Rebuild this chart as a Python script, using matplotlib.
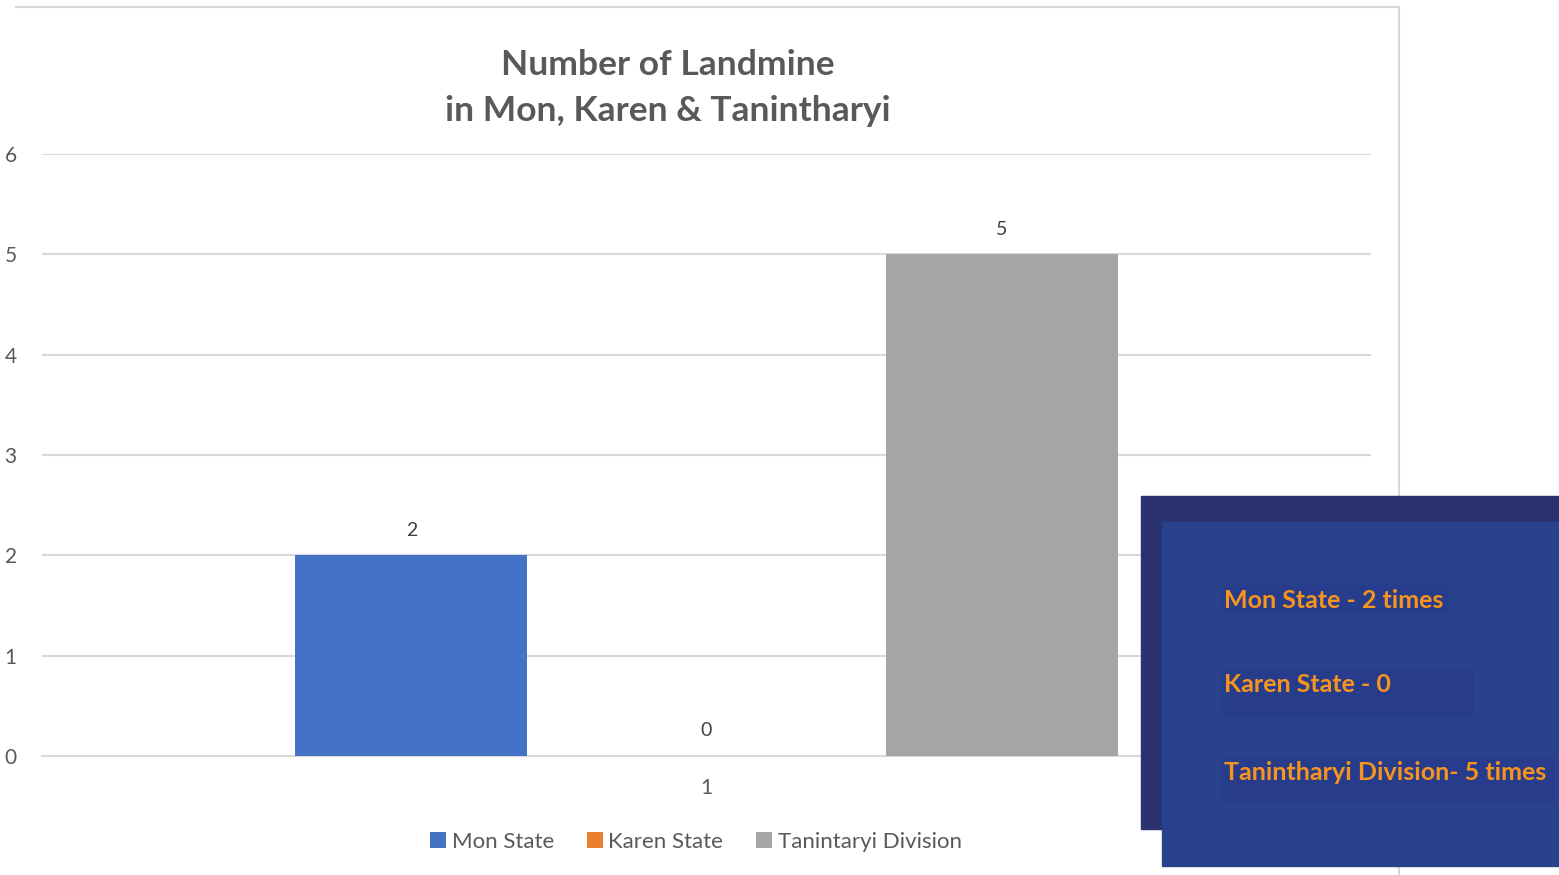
import matplotlib.pyplot as plt
from matplotlib.patches import Rectangle
from matplotlib.lines import Line2D

plt.rcParams['font.family'] = ['Lato', 'DejaVu Sans']

# Data
category = ['1']
series = ['Mon State', 'Karen State', 'Tanintaryi Division']
values = [2, 0, 5]
colors = ['#4472C4', '#ED7D31', '#A5A5A5']
y_ticks = [0, 1, 2, 3, 4, 5, 6]
note_lines = ['Mon State - 2 times', 'Karen State - 0', 'Tanintharyi Division- 5 times']

W, H = 1559, 875
fig = plt.figure(figsize=(W / 100, H / 100), dpi=100)
fig.patch.set_facecolor('white')

# chart area frame (top + right edges visible)
frame_col = '#D9D9D9'
fig.add_artist(Line2D([16 / W, 1399 / W], [1 - 7 / H, 1 - 7 / H], color=frame_col, lw=1.5))
fig.add_artist(Line2D([1399 / W, 1399 / W], [1 - 7 / H, 0], color=frame_col, lw=1.5))

ax = fig.add_axes([42 / W, 1 - 756 / H, (1371 - 42) / W, (756 - 154) / H])
ax.set_xlim(-0.5, 0.5)
ax.set_ylim(0, 6)

bar_w = 0.1746
offset = 0.222
for i, (name, v, c) in enumerate(zip(series, values, colors)):
    x = (i - 1) * offset
    ax.bar(x, v, width=bar_w, color=c, label=name, zorder=3)
    ax.annotate(str(v), (x, v), xytext=(0, 12), textcoords='offset points',
                ha='center', va='bottom', fontsize=14, color='#404040')

ax.set_yticks(y_ticks)
ax.set_xticks([0])
ax.set_xticklabels(category)
ax.grid(axis='y', color='#D9D9D9', lw=1.5, zorder=0)
for s in ax.spines.values():
    s.set_visible(False)
ax.spines['bottom'].set_visible(True)
ax.spines['bottom'].set_color('#D9D9D9')
ax.spines['bottom'].set_linewidth(1.5)
ax.tick_params(axis='both', length=0, labelsize=15, labelcolor='#595959')
ax.tick_params(axis='x', pad=16)
for lbl in ax.get_yticklabels():
    lbl.set_horizontalalignment('left')
ax.tick_params(axis='y', pad=27)

fig.text(668 / W, 1 - 88 / H, 'Number of Landmine\nin Mon, Karen & Tanintharyi',
         ha='center', va='center', fontsize=25.5, fontweight='bold', color='#595959',
         linespacing=1.55)

fig.legend(loc='center', bbox_to_anchor=(696 / W, 1 - 842 / H), ncol=3, frameon=False,
           fontsize=16, labelcolor='#595959', handlelength=0.7, handleheight=0.7,
           handletextpad=0.25, columnspacing=1.5)

# overlay note boxes
fig.add_artist(Rectangle((1141 / W, 1 - 829 / H), (1559 - 1141) / W, (829 - 496) / H,
                         transform=fig.transFigure, color='#2B3270', zorder=5))
fig.add_artist(Rectangle((1162 / W, 1 - 866 / H), (1559 - 1162) / W, (866 - 522) / H,
                         transform=fig.transFigure, color='#29428E', zorder=6))
boxes = [(1223, 585, 1447, 613), (1223, 669, 1473, 715), (1223, 758, 1553, 801)]
text_y = [600, 684, 772]
for (x0, y0, x1, y1), ty, t in zip(boxes, text_y, note_lines):
    fig.add_artist(Rectangle((x0 / W, 1 - y1 / H), (x1 - x0) / W, (y1 - y0) / H,
                             transform=fig.transFigure, color='#273D8B', zorder=7))
    fig.text(1224 / W, 1 - ty / H, t, ha='left', va='center', fontsize=18,
             fontweight='bold', color='#F7941D', zorder=8)

fig.savefig('out.png', dpi=100)
